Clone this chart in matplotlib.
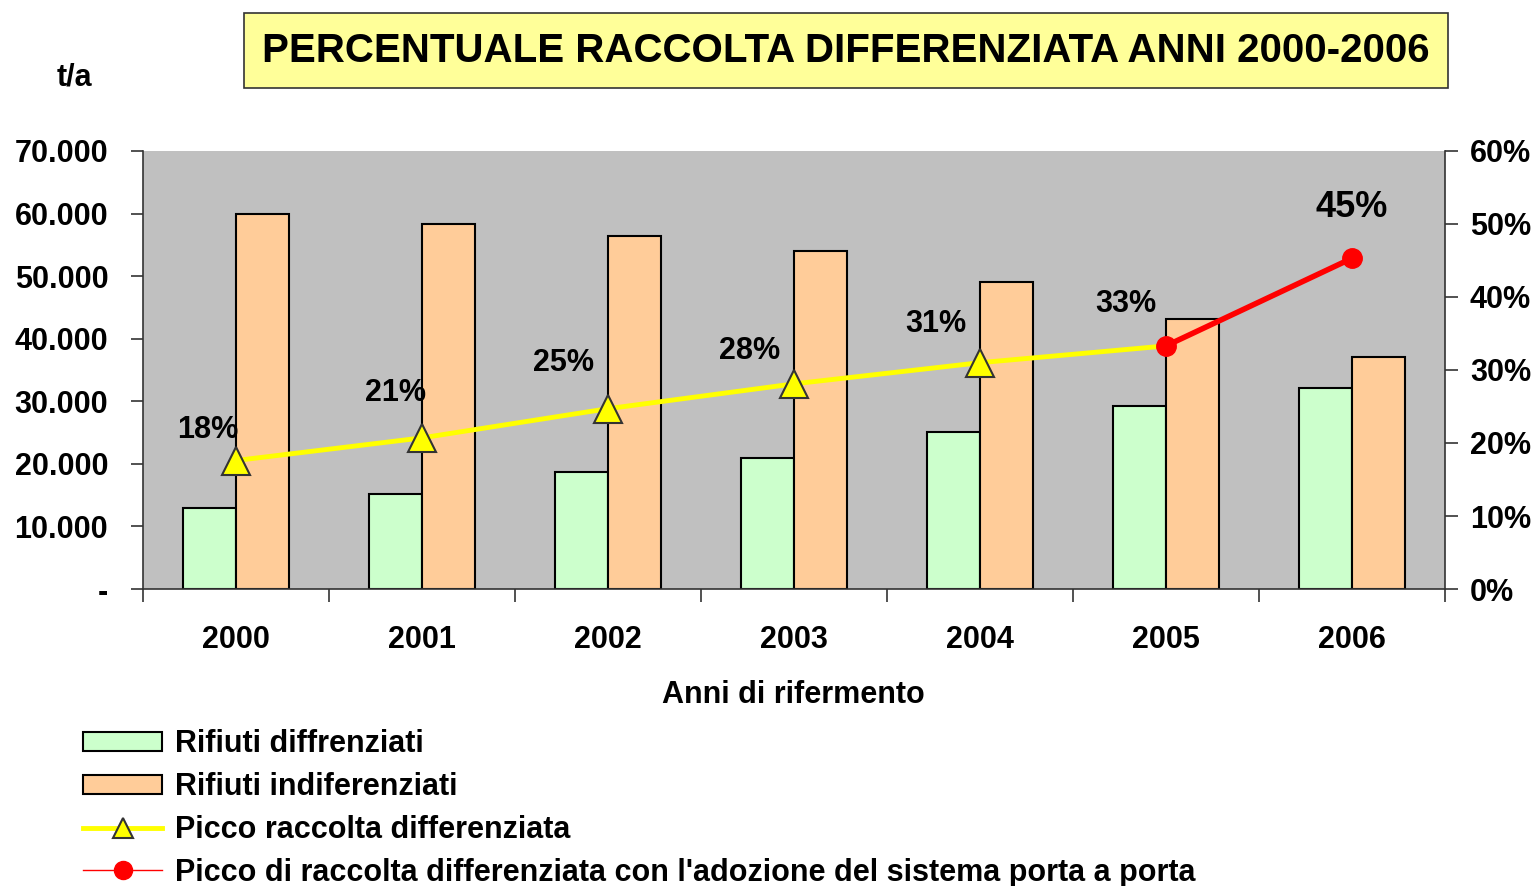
import numpy as np
import matplotlib.pyplot as plt
from matplotlib.lines import Line2D
from matplotlib.patches import Patch

# data
anni = ['2000', '2001', '2002', '2003', '2004', '2005', '2006']
differenziati = [12950, 15200, 18700, 20950, 25100, 29250, 32100]
indifferenziati = [59950, 58300, 56400, 54000, 49100, 43150, 37100]
percentuale = [17.6, 20.7, 24.7, 28.1, 31.0, 33.3, 45.3]
etichette_pct = ['18%', '21%', '25%', '28%', '31%', '33%', '45%']

# label offsets (pixels) from each point
off_x = [-28, -26, -44, -44, -44, -40, 0]
off_y = [31, 45, 46, 33, 39, 42, 51]

plt.rcParams['font.family'] = ['Liberation Sans', 'DejaVu Sans']
plt.rcParams['font.weight'] = 'bold'

fig = plt.figure(figsize=(15.37, 8.86), dpi=100)
ax = fig.add_axes([0.093, 0.3352, 0.8471, 0.4944])
ax.set_facecolor('#C0C0C0')

x = np.arange(len(anni))
w = 0.285
ax.bar(x - w/2, differenziati, w, color='#CCFFCC', edgecolor='black', linewidth=1.5, zorder=2)
ax.bar(x + w/2, indifferenziati, w, color='#FFCC99', edgecolor='black', linewidth=1.5, zorder=2)

ax.set_xlim(-0.5, len(anni) - 0.5)
ax.set_ylim(0, 70000)
ax.set_yticks(np.arange(0, 70001, 10000))
ax.set_yticklabels(['-'] + ['{:,}'.format(v).replace(',', '.') for v in range(10000, 70001, 10000)])
ax.set_xticks(np.arange(-0.5, len(anni), 1.0))
ax.set_xticklabels([])
ax.set_xticks(x, minor=True)
ax.set_xticklabels(anni, minor=True)
ax.tick_params(axis='x', which='major', length=9, width=1.2, color='#333333')
ax.tick_params(axis='x', which='minor', length=0, pad=26, labelsize=22)
ax.tick_params(axis='y', length=9, width=1.2, color='#333333', labelsize=22, pad=16)
for s in ['top', 'right']:
    ax.spines[s].set_visible(False)
for s in ['left', 'bottom']:
    ax.spines[s].set_color('#333333')
    ax.spines[s].set_linewidth(1.2)

ax2 = ax.twinx()
ax2.set_ylim(0, 60)
ax2.set_yticks(np.arange(0, 61, 10))
ax2.set_yticklabels(['{}%'.format(v) for v in range(0, 61, 10)])
ax2.tick_params(axis='y', length=9, width=1.2, color='#333333', labelsize=22, pad=9)
for s in ['top', 'left', 'bottom']:
    ax2.spines[s].set_visible(False)
ax2.spines['right'].set_color('#333333')
ax2.spines['right'].set_linewidth(1.2)

# lines
ax2.plot(x[:6], percentuale[:6], color='#FFFF00', linewidth=3.5, zorder=3)
ax2.plot(x[:5], percentuale[:5], linestyle='none', marker='^', markersize=20,
         markerfacecolor='#FFFF00', markeredgecolor='#333333', markeredgewidth=1.5, zorder=4)
ax2.plot(x[5:], percentuale[5:], color='#FF0000', linewidth=4, marker='o', markersize=14,
         markerfacecolor='#FF0000', markeredgecolor='#FF0000', zorder=5)

for i in range(len(anni)):
    size = 26 if i == 6 else 22
    ax2.annotate(etichette_pct[i], (x[i], percentuale[i]), xytext=(off_x[i] * 0.72, off_y[i] * 0.72),
                 textcoords='offset points', ha='center', va='center',
                 fontsize=size, fontweight='bold')

fig.text(0.037, 0.912, 't/a', fontsize=22, fontweight='bold', ha='left', va='center')
fig.text(0.5165, 0.216, 'Anni di rifermento', fontsize=22, fontweight='bold', ha='center', va='center')
fig.text(0.5505, 0.943, 'PERCENTUALE RACCOLTA DIFFERENZIATA ANNI 2000-2006', fontsize=29,
         fontweight='bold', ha='center', va='center',
         bbox=dict(boxstyle='square,pad=0.45', facecolor='#FFFF99', edgecolor='#333333', linewidth=1.2))

handles = [
    Patch(facecolor='#CCFFCC', edgecolor='black', linewidth=1.5),
    Patch(facecolor='#FFCC99', edgecolor='black', linewidth=1.5),
    Line2D([], [], color='#FFFF00', linewidth=3.5, marker='^', markersize=15,
           markerfacecolor='#FFFF00', markeredgecolor='#333333', markeredgewidth=1.5),
    Line2D([], [], color='#FF0000', linewidth=1, marker='o', markersize=13,
           markerfacecolor='#FF0000', markeredgecolor='#FF0000'),
]
labels = ['Rifiuti diffrenziati', 'Rifiuti indiferenziati', 'Picco raccolta differenziata',
          "Picco di raccolta differenziata con l'adozione del sistema porta a porta"]
fig.legend(handles, labels, loc='upper left', bbox_to_anchor=(0.054, 0.177), frameon=False,
           fontsize=22, handlelength=2.6, handleheight=0.6, handletextpad=0.4,
           labelspacing=0.42, borderaxespad=0, borderpad=0)

fig.savefig('out.png', dpi=100)
